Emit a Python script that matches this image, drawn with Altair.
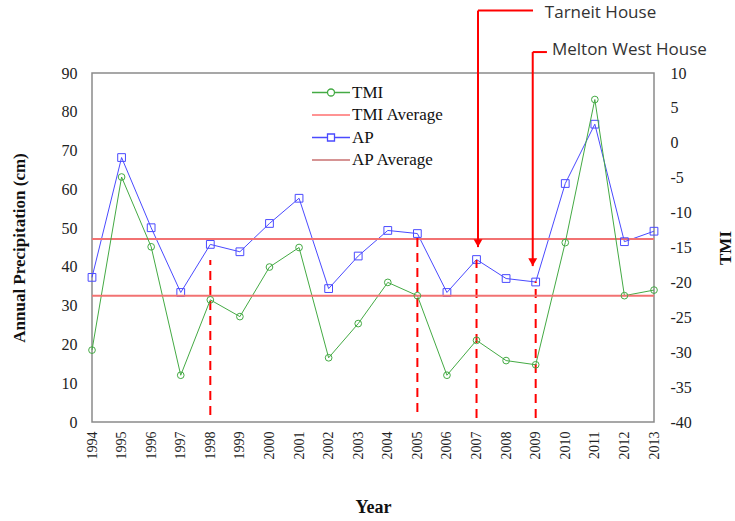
import altair as alt
import pandas as pd

# ---- data ----
years = list(range(1994, 2014))
ap = [37.3, 68.2, 50.1, 33.4, 45.8, 43.9, 51.2, 57.7, 34.4, 42.8,
      49.4, 48.6, 33.4, 41.9, 37.0, 36.1, 61.5, 76.8, 46.5, 49.2]
tmi = [-29.7, -4.9, -14.9, -33.3, -22.5, -24.9, -17.8, -15.0, -30.8, -25.9,
       -20.0, -21.9, -33.3, -28.3, -31.2, -31.8, -14.3, 6.2, -21.9, -21.1]
ap_average = 47.2
tmi_average = -21.9
left_ticks = list(range(0, 91, 10))
right_ticks = list(range(-40, 11, 5))

legend_names = ["TMI", "TMI Average", "AP", "AP Average"]
legend_colors = ["#44aa44", "#ff6f6f", "#4a4aff", "#c87070"]

dash_years = [1998, 2005, 2007, 2009]
dash_low = [1.8, 2.6, 1.0, 1.0]
dash_high = [41.8, 48.7, 41.8, 36.2]

note_labels = ["Tarneit House", "Melton West House"]
note_x = [2007.05, 2008.9]
note_top = [106.1, 95.4]
note_tip = [45.1, 40.2]
note_elbow_x = [2008.91, 2009.38]
note_text_x = [2009.31, 2009.55]
note_text_y = [105.4, 95.9]

# ---- styling ----
SERIF = "Liberation Serif"
GREEN, BLUE, RED = "#44aa44", "#4a4aff", "#ff0000"
AVG_RED = "#f27272"

df = pd.DataFrame({"year": years, "ap": ap, "tmi": tmi})
dash_df = pd.DataFrame({"year": dash_years, "lo": dash_low, "hi": dash_high})
note_df = pd.DataFrame({"label": note_labels, "x": note_x, "top": note_top,
                        "tip": note_tip, "ex": note_elbow_x,
                        "tx": note_text_x, "ty": note_text_y})
legend_df = pd.DataFrame({"series": legend_names})

xscale = alt.Scale(domain=[1994, 2013], nice=False, zero=False)
yl = alt.Scale(domain=[0, 90], nice=False, zero=False)
yr = alt.Scale(domain=[-40, 10], nice=False, zero=False)

x_axis = alt.Axis(values=years, format="d", labelAngle=270, labelFont=SERIF,
                  labelFontSize=14, labelColor="#222", labelPadding=9,
                  ticks=False, domain=False, grid=False, title="Year",
                  titleFont=SERIF, titleFontSize=18, titleFontWeight="bold",
                  titleColor="#111", titlePadding=39, labelOverlap=False)
left_axis = alt.Axis(values=left_ticks, title="Annual Precipitation (cm)",
                     titleFont=SERIF, titleFontSize=17, titleFontWeight="bold",
                     titleColor="#111", labelFont=SERIF, labelFontSize=16,
                     labelColor="#222", ticks=False, domain=False, grid=False,
                     labelPadding=15, titlePadding=33)
right_axis = alt.Axis(orient="right", values=right_ticks, title="TMI",
                      titleAngle=270, titleFont=SERIF, titleFontSize=17,
                      titleFontWeight="bold", titleColor="#111",
                      labelFont=SERIF, labelFontSize=16, labelColor="#222",
                      labelExpr="'' + datum.value",
                      ticks=False, domain=False, grid=False,
                      labelPadding=16, titlePadding=43)


def X(f):
    return alt.X(f, scale=xscale, axis=x_axis)


def YL(f):
    return alt.Y(f, scale=yl, axis=left_axis)


def YR(f):
    return alt.Y(f, scale=yr, axis=right_axis)


base = alt.Chart(df)

ap_line = base.mark_line(color=BLUE, strokeWidth=1).encode(x=X("year:Q"), y=YL("ap:Q"))
ap_pts = base.mark_point(shape="square", filled=False, color=BLUE, size=60,
                         strokeWidth=1, opacity=1).encode(x=X("year:Q"), y=YL("ap:Q"))
ap_avg = alt.Chart(pd.DataFrame({"v": [ap_average]})).mark_rule(
    color=AVG_RED, strokeWidth=2).encode(y=YL("v:Q"))
dashes = alt.Chart(dash_df).mark_rule(color=RED, strokeWidth=2, strokeDash=[9, 6]).encode(
    x=X("year:Q"), y=YL("lo:Q"), y2="hi:Q")
arrow_v = alt.Chart(note_df).mark_rule(color=RED, strokeWidth=2).encode(
    x=X("x:Q"), y=YL("top:Q"), y2="tip:Q")
arrow_h = alt.Chart(note_df).mark_rule(color=RED, strokeWidth=2).encode(
    x=X("x:Q"), x2="ex:Q", y=YL("top:Q"))
arrow_head = alt.Chart(note_df).mark_point(shape="triangle-down", filled=True,
                                           color=RED, size=80, opacity=1,
                                           yOffset=-4).encode(x=X("x:Q"), y=YL("tip:Q"))
notes = alt.Chart(note_df).mark_text(align="left", baseline="middle",
                                     font="Open Sans", fontSize=17,
                                     color="#333").encode(
    x=X("tx:Q"), y=YL("ty:Q"), text="label:N")

legend_paths = [
    "M-1.9,0L-0.35,0M0.35,0L1.9,0M0.35,0A0.35,0.35 0 1,1 -0.35,0A0.35,0.35 0 1,1 0.35,0",
    "M-1.9,0L1.9,0",
    "M-1.9,0L-0.35,0M0.35,0L1.9,0M-0.35,-0.35L0.35,-0.35L0.35,0.35L-0.35,0.35Z",
    "M-1.9,0L1.9,0",
]
leg = alt.Legend(orient="none", legendX=228, legendY=8.5, title=None,
                 symbolSize=400, symbolStrokeWidth=1.3, symbolOpacity=1,
                 symbolFillColor="transparent", labelFont=SERIF,
                 labelFontSize=17, labelColor="#111", labelOffset=10,
                 rowPadding=3.5, padding=0)
legend_layer = alt.Chart(legend_df).mark_point(opacity=0, filled=False).encode(
    color=alt.Color("series:N", scale=alt.Scale(domain=legend_names, range=legend_colors), legend=leg),
    shape=alt.Shape("series:N", scale=alt.Scale(domain=legend_names, range=legend_paths), legend=leg),
)

left = alt.layer(ap_line, ap_avg, ap_pts, dashes, arrow_v, arrow_h, arrow_head,
                 notes, legend_layer)

tmi_line = base.mark_line(color=GREEN, strokeWidth=1).encode(x=X("year:Q"), y=YR("tmi:Q"))
tmi_pts = base.mark_point(shape="circle", filled=False, color=GREEN, size=45,
                          strokeWidth=1, opacity=1).encode(x=X("year:Q"), y=YR("tmi:Q"))
tmi_avg = alt.Chart(pd.DataFrame({"v": [tmi_average]})).mark_rule(
    color=AVG_RED, strokeWidth=2).encode(y=YR("v:Q"))

right = alt.layer(tmi_line, tmi_avg, tmi_pts)

chart = alt.layer(left, right).resolve_scale(y="independent").properties(
    width=562, height=349,
    autosize=alt.AutoSizeParams(type="none"),
    padding={"left": 92, "top": 73, "right": 81, "bottom": 99},
    background="white",
).configure_view(stroke="#8a8a8a", strokeWidth=1.5).configure_axis(
    labelFont=SERIF, titleFont=SERIF)

chart.save("out.html", embed_options={"renderer": "svg", "actions": False})
